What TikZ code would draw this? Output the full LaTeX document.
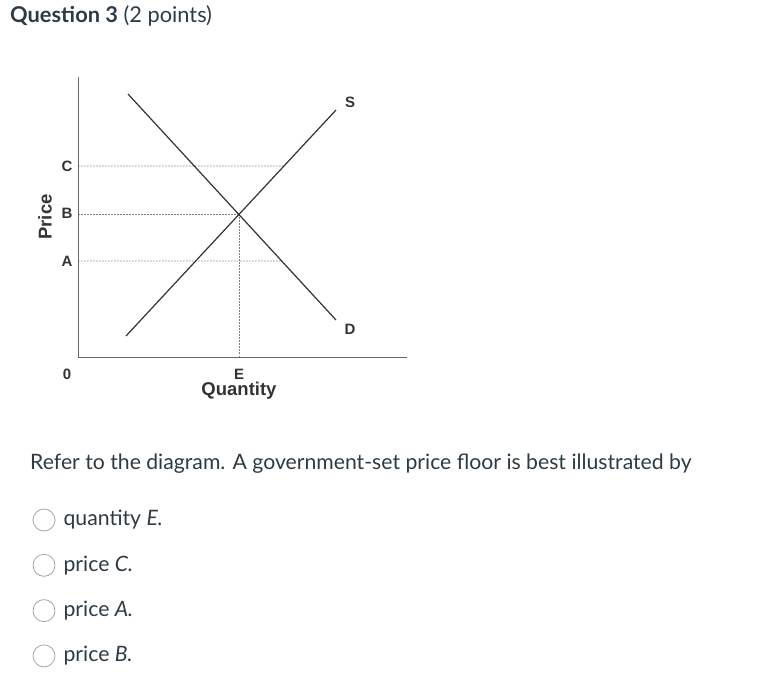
\documentclass[tikz,border=0pt]{standalone}
\usepackage{fontspec}
\setmainfont{Lato}
\newfontfamily\chartfont{Liberation Sans}
\usetikzlibrary{positioning}
\definecolor{textgray}{HTML}{2D3B45}
\definecolor{linegray}{HTML}{333333}

\begin{document}
\begin{tikzpicture}[x=1pt,y=-1pt,
  lbl/.style={font=\chartfont\bfseries\fontsize{15}{15}\selectfont, text=linegray, inner sep=0pt},
  axlbl/.style={font=\chartfont\bfseries\fontsize{18.5}{18.5}\selectfont, text=linegray, inner sep=0pt},
  axis/.style={draw=gray!80!black, line width=1pt},
  curve/.style={draw=linegray, line width=1.2pt},
  guide/.style={draw=gray, dash pattern=on 1.5pt off 1.5pt, line width=0.7pt},
  radio/.style={draw=gray!70, circle, minimum size=22pt, inner sep=0pt, line width=0.8pt},
  opt/.style={font=\fontsize{21.2}{21.2}\selectfont, text=textgray, inner sep=0pt}]
  \useasboundingbox (0,0) rectangle (770,682);

  \node[anchor=base west, inner sep=0pt, text=textgray, font=\fontsize{21.8}{24}\selectfont] (title) at (10,23) {\textbf{Question 3} (2 points)};

  \coordinate (O) at (78,357);
  \coordinate (ytop) at (78,77);
  \coordinate (xend) at (407,357);
  \coordinate (d1) at (128,94);
  \coordinate (d2) at (336,320);
  \coordinate (s1) at (126,336);
  \coordinate (s2) at (336,110);
  \coordinate (eq) at (intersection of d1--d2 and s1--s2);
  \coordinate (cax) at (78,166);
  \coordinate (csup) at (intersection of s1--s2 and cax--{(400,166)});
  \coordinate (aax) at (78,261);
  \coordinate (adem) at (intersection of d1--d2 and aax--{(400,261)});
  \coordinate (bax) at (O |- eq);
  \coordinate (eax) at (eq |- O);

  \draw[guide] (cax) -- (csup);
  \draw[guide] (aax) -- (adem);
  \draw[guide] (bax) -- (eq);
  \draw[guide] (eq) -- (eax);
  \draw[axis] (ytop) -- (O) -- (xend);
  \draw[curve] (d1) -- (d2);
  \draw[curve] (s1) -- (s2);

  \node[lbl] (C) at (67,166) {C};
  \node[lbl] (B) at (67,213) {B};
  \node[lbl] (A) at (67,261) {A};
  \node[lbl] (zero) at (67,374) {0};
  \node[lbl] (E) at (239,374) {E};
  \node[lbl] (S) at (350,102) {S};
  \node[lbl] (D) at (350,329) {D};
  \node[axlbl, below=3pt of E] (quantity) {Quantity};
  \node[axlbl, rotate=90] (price) at (45,217) {Price};

  \node[anchor=base west, inner sep=0pt, text=textgray, font=\fontsize{21.2}{24}\selectfont] (question) at (30,469) {Refer to the diagram. A government-set price floor is best illustrated by};

  \node[radio] (r1) at (44,520) {};
  \node[radio, below=22.5pt of r1] (r2) {};
  \node[radio, below=22.5pt of r2] (r3) {};
  \node[radio, below=22.5pt of r3] (r4) {};
  \node[opt, right=8pt of r1] (o1) {quantity \textit{E.}};
  \node[opt, right=8pt of r2] (o2) {price \textit{C.}};
  \node[opt, right=8pt of r3] (o3) {price \textit{A.}};
  \node[opt, right=8pt of r4] (o4) {price \textit{B.}};
\end{tikzpicture}
\end{document}
